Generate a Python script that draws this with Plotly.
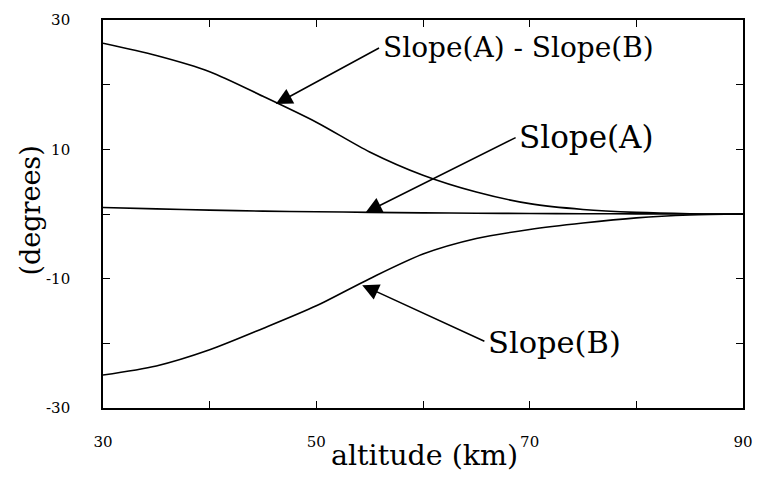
import plotly.graph_objects as go

# Altitude grid (km)
altitude = [30, 35, 40, 45, 50, 55, 60, 65, 70, 75, 80, 85, 90]

# Slopes in degrees
slope_a = [1.0, 0.8, 0.6, 0.45, 0.35, 0.25, 0.18, 0.12, 0.08, 0.05, 0.02, 0.01, 0.0]
slope_b = [-24.9, -23.5, -21.0, -17.7, -14.2, -10.0, -6.2, -3.8, -2.4, -1.4, -0.6, -0.15, 0.0]
slope_diff = [26.4, 24.5, 22.0, 18.2, 14.2, 9.6, 6.0, 3.4, 1.6, 0.7, 0.25, 0.05, 0.0]

x_ticks = [30, 40, 50, 60, 70, 80, 90]
x_labels = ["30", "", "50", "", "70", "", "90"]
y_ticks = [30, 20, 10, 0, -10, -20, -30]
y_labels = ["30", "", "10", "", "-10", "", "-30"]

SERIF = "DejaVu Serif"
line_style = dict(color="black", width=1.6, shape="spline", smoothing=0.8)

fig = go.Figure()
for name, vals in [("Slope(A) - Slope(B)", slope_diff),
                   ("Slope(A)", slope_a),
                   ("Slope(B)", slope_b)]:
    fig.add_trace(go.Scatter(x=altitude, y=vals, mode="lines", name=name,
                             line=line_style, showlegend=False, hoverinfo="skip"))

axis_common = dict(
    showline=True, linecolor="black", linewidth=1.6, mirror="ticks",
    ticks="inside", ticklen=7, tickwidth=1.3, tickcolor="black",
    showgrid=False, zeroline=False,
    tickfont=dict(family=SERIF, size=15, color="black"),
)

fig.update_xaxes(range=[30, 90], tickmode="array", tickvals=x_ticks, ticktext=x_labels,
                 ticklabelstandoff=19, **axis_common)
fig.update_yaxes(range=[-30, 30], tickmode="array", tickvals=y_ticks, ticktext=y_labels,
                 ticklabelstandoff=28, **axis_common)


def label(text, tip_x, tip_y, ax, ay, size):
    # Text placed at pixel offset (ax, ay) from the data point the arrow targets
    fig.add_annotation(x=tip_x, y=tip_y, text=text, showarrow=True,
                       ax=ax, ay=ay, xanchor="left", yanchor="middle",
                       arrowhead=2, arrowsize=2.2, arrowwidth=1.5, arrowcolor="black",
                       standoff=0, startstandoff=2,
                       font=dict(family=SERIF, size=size, color="black"))


label("Slope(A) - Slope(B)", 46.2, 17.0, 105, -57, 28)
label("Slope(A)", 54.6, 0.2, 152, -76, 31)
label("Slope(B)", 54.3, -11.0, 124, 57, 30.5)

# Axis titles
fig.add_annotation(text="altitude (km)", xref="paper", yref="paper", x=0.503, y=-0.123,
                   xanchor="center", yanchor="middle", showarrow=False,
                   font=dict(family=SERIF, size=28.5, color="black"))
fig.add_annotation(text="(degrees)", xref="paper", yref="paper", x=-0.113, y=0.508,
                   xanchor="center", yanchor="middle", showarrow=False, textangle=-90,
                   font=dict(family=SERIF, size=27, color="black"))

fig.update_layout(
    width=764, height=480,
    margin=dict(l=103, r=11, t=18, b=72),
    paper_bgcolor="white", plot_bgcolor="white",
)

fig.write_html("out.html")
